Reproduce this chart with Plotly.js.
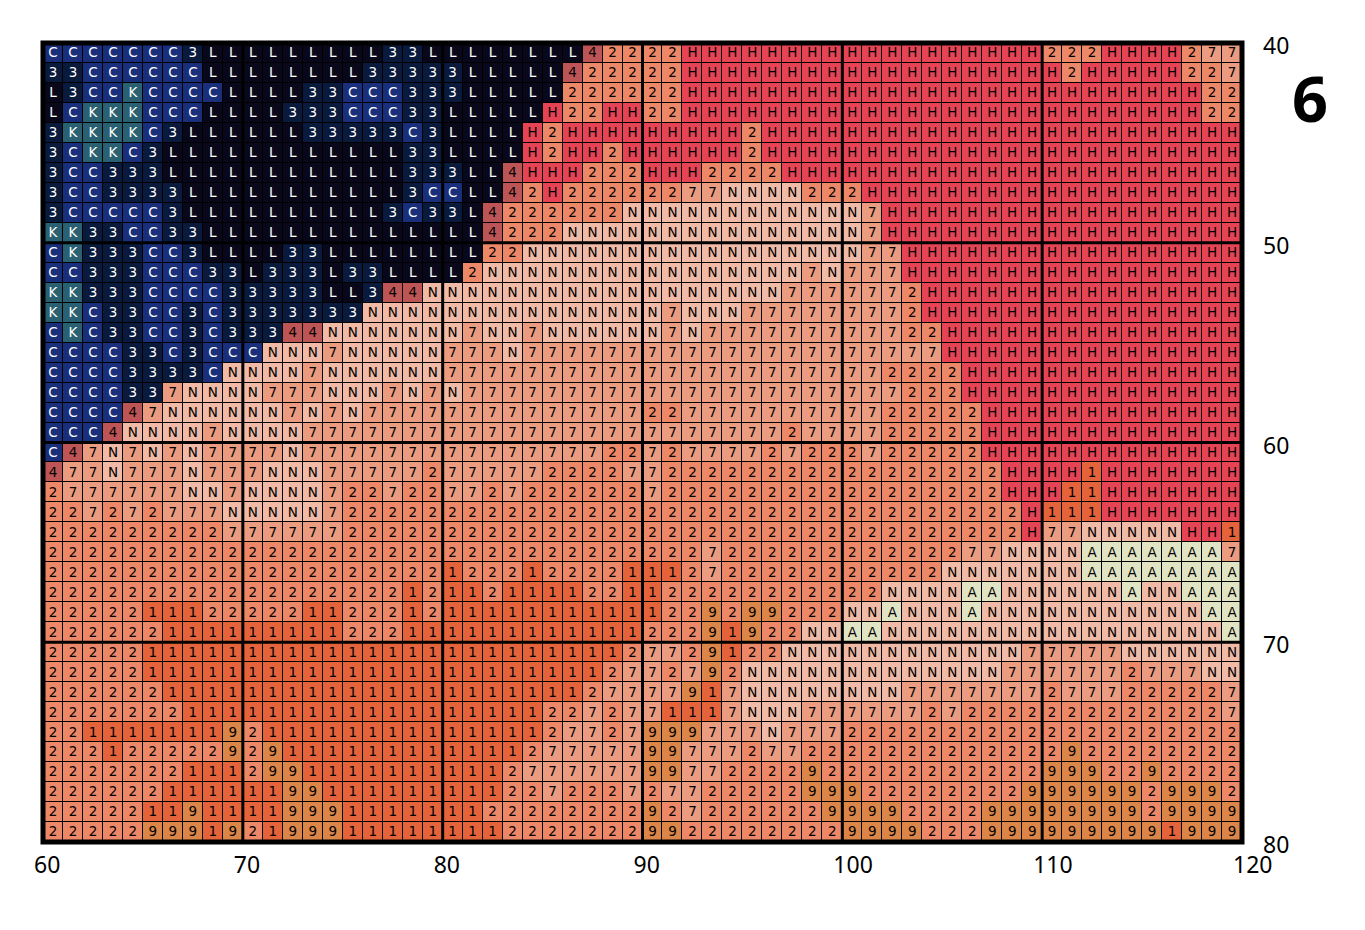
<!DOCTYPE html>
<html><head><meta charset="utf-8">
<script src="https://cdn.plot.ly/plotly-3.0.1.min.js"></script>
<style>html,body{margin:0;padding:0;background:#fff}#c{width:1365px;height:930px}</style>
</head><body><div id="c"></div>
<script>
const classes = ["L","3","C","K","4","H","2","7","N","A","1","9"];
const classColors = ["#08081a","#0a1a3c","#1a2f7c","#2a6172","#bd5556","#e64455","#ec8768","#ea9b80","#f0baa6","#e0e4c3","#e4633a","#dc8548"];
const darkClasses = ["L","3","C","K"];
const xTicks = [60,70,80,90,100,110,120];
const yTicks = [40,50,60,70,80];
const innerX = [70,80,90,100,110];
const innerY = [50,60,70];
const panelLabel = "6";

const blockLeft = [
"CCCCCCC3LLLLLLLLL33L","33CCCCCCLLLLLLLL3333","L3CCKCCCCLLLL33CCC33","LCKKKCCCLLLL333CCC33",
"3KKKKC3LLLLLL33333C3","3CKKC3LLLLLLLLLLLL33","3CC333LLLLLLLLLLLL33","3CC3333LLLLLLLLLLL3C",
"3CCCCC3LLLLLLLLLL3C3","KK33CC33LLLLLLLLLLLL","CK333CC3LLLL33LLLLLL","CC333CCC33L333L33LLL",
"KK333CCCC33333LL344N","KKC33CC3C3333333NNNN","CKC33CC3C33344NNNNNN","CCCC33C3CCCNNN7NNNNN",
"CCCC3333CNNNN7NNNNNN","CCCC337NNNN777NNN7N7","CCCC47NNNNNN7N7N7777","CCC4NNNN7NNNN7777777",
"C47N7N7N7777N7777777","477N777N777NNN777772","2777777NN7NNNN722722","227272777NNNNN722222",
"22222222277777722222","22222222222222222222","22222222222222222222","22222222222222222212",
"22222111222221122212","22222211111111122211","22222111111111111111","22222111111111111111",
"22222211111111111111","22222221111111111111","22111111192111111111","22212222292911111111",
"22222221112991111111","22222211111199111111","22222119111199911111","22222999192199911111"
];
const blockMid = [
"LLLLLLL42222HHHHHHHH","3LLLLL422222HHHHHHHH","3LLLLL222222HHHHHHHH","LLLLLH22HH22HHHHHHHH",
"LLLLH2HHHHHHHHH2HHHH","LLLLH2HH2HHHHHH2HHHH","3LL4HHH222HHH2222HHH","CLL42H22222277NNNN22",
"3L4222222NNNNNNNNNNN","LL4222NNNNNNNNNNNNNN","LL22NNNNNNNNNNNNNNNN","L2NNNNNNNNNNNNNNNN7N",
"NNNNNNNNNNNNNNNNN777","NNNNNNNNNNN7NNN77777","N7NN7NNNNNN7N7777777","777N7777777777777777",
"77777777777777777777","N7777777777777777777","77777777772277777777","77777777777777777277",
"77777777227277772722","77777222277222222222","77272222227222222222","22222222222222222222",
"22222222222222222222","22222222222227222222","12221222211127222222","11211112211222222222",
"11111111111229299222","111111111122291922NN","11111111127729122NNN","111111112772792NNNNN",
"111111127777917NNNNN","111112272771117NNN77","1111127727999777N777","11112777779977727722",
"11127777779977222292","11122722272772222299","11222222229272222229","11122222229922222222"
];
const blockRight = [
"HHHHHHHHHH222HHHH277","HHHHHHHHHHH2HHHHH227","HHHHHHHHHHHHHHHHHH22","HHHHHHHHHHHHHHHHHH22",
"HHHHHHHHHHHHHHHHHHHH","HHHHHHHHHHHHHHHHHHHH","HHHHHHHHHHHHHHHHHHHH","2HHHHHHHHHHHHHHHHHHH",
"N7HHHHHHHHHHHHHHHHHH","N7HHHHHHHHHHHHHHHHHH","N77HHHHHHHHHHHHHHHHH","777HHHHHHHHHHHHHHHHH",
"7772HHHHHHHHHHHHHHHH","7772HHHHHHHHHHHHHHHH","77722HHHHHHHHHHHHHHH","77777HHHHHHHHHHHHHHH",
"772222HHHHHHHHHHHHHH","777222HHHHHHHHHHHHHH","7722222HHHHHHHHHHHHH","7722222HHHHHHHHHHHHH",
"2722222HHHHHHHHHHHHH","22222222HHHH1HHHHHHH","22222222HHH11HHHHHHH","222222222H111HHHHHHH",
"222222222H77NNNNNHH1","22222277NNNNAAAAAAA7","22222NNNNNNNAAAAAAAA","22NNNNAANNNNNNANNAAA",
"NNANNNANNNNNNNNNNNAA","AANNNNNNNNNNNNNNNNNA","NNNNNNNNN77777NNNNNN","NNNNNNNN7777772777NN",
"NNN77777772777222227","77772722222222222227","22222222222222222222","22222222222922222222",
"22222222229992292222","92222222299999929992","99922229999999929999","99992229999999991999"
];
const gridRows = blockLeft.map((r,i)=>r+blockMid[i]+blockRight[i]);
gridRows.forEach((r,i)=>{ if(r.length!==60) throw new Error("row "+i+" length "+r.length); });

const xCenters = Array.from({length:60},(_,i)=>60.5+i);
const yCenters = Array.from({length:40},(_,i)=>40.5+i);
const z = gridRows.map(r=>r.split("").map(c=>classes.indexOf(c)));
const n = classes.length;
const colorscale = [];
classColors.forEach((c,i)=>{colorscale.push([i/n,c]);colorscale.push([(i+1)/n,c]);});

const tx=[],ty=[],tt=[],tc=[];
gridRows.forEach((r,j)=>r.split("").forEach((c,i)=>{
  tx.push(xCenters[i]);ty.push(yCenters[j]+0.05);tt.push(c);
  tc.push(darkClasses.includes(c)?"#ffffff":"#000000");
}));

const frameStyle={color:"#000",width:5};
const shapes=[
 ...innerX.map(v=>({type:"line",xref:"x",yref:"paper",x0:v,x1:v,y0:0,y1:1,line:{color:"#000",width:3},layer:"above"})),
 ...innerY.map(v=>({type:"line",xref:"paper",yref:"y",x0:0,x1:1,y0:v,y1:v,line:{color:"#000",width:3},layer:"above"})),
 {type:"rect",xref:"paper",yref:"paper",x0:0,x1:1,y0:0,y1:1,line:frameStyle,layer:"above"}
];
const tickFont={family:"'Noto Sans', sans-serif",size:23,color:"#000"};
Plotly.newPlot("c",[
 {type:"heatmap",x:xCenters,y:yCenters,z:z,zmin:-0.5,zmax:n-0.5,colorscale:colorscale,showscale:false,xgap:1,ygap:1,hoverinfo:"skip"},
 {type:"scatter",mode:"text",x:tx,y:ty,text:tt,textposition:"middle center",
  textfont:{family:"'DejaVu Sans', sans-serif",size:13.5,color:tc},hoverinfo:"skip",cliponaxis:false}
],{
 width:1365,height:930,margin:{l:42.5,r:122.5,t:42.5,b:87.5,pad:0},
 paper_bgcolor:"#fff",plot_bgcolor:"#000",showlegend:false,
 xaxis:{range:[60,120],tickvals:xTicks,ticktext:xTicks.map(String),showgrid:false,zeroline:false,ticks:"",
   tickfont:tickFont,ticklabelposition:"outside right",ticklabelshift:-9,ticklabelstandoff:7,automargin:false,tickangle:0},
 yaxis:{range:[80,40],side:"right",tickvals:yTicks,ticktext:yTicks.map(String),showgrid:false,zeroline:false,ticks:"",
   tickfont:tickFont,ticklabelshift:-3,ticklabelstandoff:20,automargin:false},
 title:{text:panelLabel,x:1310/1365,xref:"container",xanchor:"center",y:1-100/930,yref:"container",yanchor:"middle",
   font:{family:"'Noto Sans', sans-serif",size:63,color:"#000",weight:700}},
 shapes:shapes
},{displayModeBar:false,staticPlot:true});
</script></body></html>
